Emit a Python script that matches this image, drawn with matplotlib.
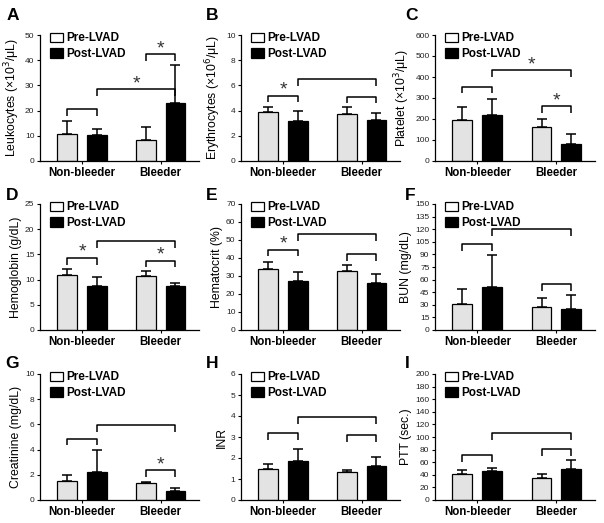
import matplotlib
matplotlib.use("Agg")
import matplotlib.pyplot as plt
from matplotlib.patches import Patch

plt.rcParams['font.family'] = ['Liberation Sans', 'DejaVu Sans']

groups = ["Non-bleeder", "Bleeder"]
series = ["Pre-LVAD", "Post-LVAD"]

# Panel A: Leukocytes
leuko_pre = [10.8, 8.3]
leuko_pre_err = [5.2, 5.0]
leuko_post = [10.5, 23.2]
leuko_post_err = [2.2, 15.0]
# Panel B: Erythrocytes
eryth_pre = [3.85, 3.75]
eryth_pre_err = [0.45, 0.5]
eryth_post = [3.15, 3.25]
eryth_post_err = [0.82, 0.53]
# Panel C: Platelet
plt_pre = [195, 163]
plt_pre_err = [62, 38]
plt_post = [221, 80]
plt_post_err = [76, 47]
# Panel D: Hemoglobin
hgb_pre = [11.0, 10.7]
hgb_pre_err = [1.1, 1.0]
hgb_post = [8.8, 8.8]
hgb_post_err = [1.7, 0.5]
# Panel E: Hematocrit
hct_pre = [34.0, 32.6]
hct_pre_err = [3.7, 3.5]
hct_post = [27.0, 26.0]
hct_post_err = [5.0, 5.0]
# Panel F: BUN
bun_pre = [31.5, 27.0]
bun_pre_err = [17.0, 11.5]
bun_post = [51.5, 24.7]
bun_post_err = [37.5, 16.8]
# Panel G: Creatinine
creat_pre = [1.52, 1.32]
creat_pre_err = [0.48, 0.14]
creat_post = [2.2, 0.68]
creat_post_err = [1.8, 0.28]
# Panel H: INR
inr_pre = [1.5, 1.32]
inr_pre_err = [0.23, 0.12]
inr_post = [1.86, 1.64]
inr_post_err = [0.58, 0.42]
# Panel I: PTT
ptt_pre = [40.5, 35.0]
ptt_pre_err = [7.0, 7.0]
ptt_post = [45.8, 48.5]
ptt_post_err = [5.5, 14.5]

# bracket heights (data units) and significance: within non-bleeder, between groups (post), within bleeder
brackets = {
    "A": [("nb", 20.6, False), ("between", 28.4, True), ("b", 42.3, True)],
    "B": [("nb", 5.19, True), ("between", 6.5, False), ("b", 5.1, False)],
    "C": [("nb", 354, False), ("between", 432, True), ("b", 261, True)],
    "D": [("nb", 14.3, True), ("between", 17.6, False), ("b", 13.75, True)],
    "E": [("nb", 44.6, True), ("between", 53.2, False), ("b", 42.3, False)],
    "F": [("nb", 102, False), ("between", 120, False), ("b", 54.2, False)],
    "G": [("nb", 4.88, False), ("between", 5.94, False), ("b", 2.36, True)],
    "H": [("nb", 3.17, False), ("between", 3.96, False), ("b", 3.09, False)],
    "I": [("nb", 71, False), ("between", 106.6, False), ("b", 80.6, False)],
}

panels = [
    ("A", "Leukocytes (\u00d710$^3$/\u03bcL)", leuko_pre, leuko_pre_err, leuko_post, leuko_post_err, 50, 10),
    ("B", "Erythrocytes (\u00d710$^6$/\u03bcL)", eryth_pre, eryth_pre_err, eryth_post, eryth_post_err, 10, 2),
    ("C", "Platelet (\u00d710$^3$/\u03bcL)", plt_pre, plt_pre_err, plt_post, plt_post_err, 600, 100),
    ("D", "Hemoglobin (g/dL)", hgb_pre, hgb_pre_err, hgb_post, hgb_post_err, 25, 5),
    ("E", "Hematocrit (%)", hct_pre, hct_pre_err, hct_post, hct_post_err, 70, 10),
    ("F", "BUN (mg/dL)", bun_pre, bun_pre_err, bun_post, bun_post_err, 150, 15),
    ("G", "Creatinine (mg/dL)", creat_pre, creat_pre_err, creat_post, creat_post_err, 10, 2),
    ("H", "INR", inr_pre, inr_pre_err, inr_post, inr_post_err, 6, 1),
    ("I", "PTT (sec.)", ptt_pre, ptt_pre_err, ptt_post, ptt_post_err, 200, 20),
]

W, H = 604, 523
fig = plt.figure(figsize=(W / 100, H / 100), dpi=100)

col_x = [(40, 199), (241, 400), (435, 595)]
row_y = [(35, 161), (204, 330), (374, 500)]
letter_pos = [[(7, 8), (206, 8), (405, 8)],
              [(6, 188), (206, 188), (405, 188)],
              [(5, 356), (206, 356), (405, 356)]]

pre_color = "#e3e3e3"
off = 0.188
bw = 0.25

for i, (letter, ylabel, pre, pre_err, post, post_err, ymax, ystep) in enumerate(panels):
    r, c = divmod(i, 3)
    l, rr = col_x[c]
    t, b = row_y[r]
    ax = fig.add_axes([l / W, 1 - b / H, (rr - l) / W, (b - t) / H])
    x = list(range(len(groups)))
    xp = [v - off for v in x]
    xq = [v + off for v in x]
    ax.bar(xp, pre, width=bw, color=pre_color, edgecolor="black", linewidth=0.9, zorder=2)
    ax.bar(xq, post, width=bw, color="black", edgecolor="black", linewidth=0.9, zorder=2)
    ax.errorbar(xp, pre, yerr=[[0] * len(pre), pre_err], fmt="none", ecolor="black",
                elinewidth=1.1, capsize=3.5, capthick=1.1, zorder=3)
    ax.errorbar(xq, post, yerr=[[0] * len(post), post_err], fmt="none", ecolor="black",
                elinewidth=1.1, capsize=3.5, capthick=1.1, zorder=3)

    ax.set_xlim(-0.534, 1.487)
    ax.set_ylim(0, ymax)
    ticks = [k * ystep for k in range(int(round(ymax / ystep)) + 1)]
    ax.set_yticks(ticks)
    ax.set_yticklabels([str(tk) for tk in ticks])
    ax.set_xticks(x)
    ax.set_xticklabels(groups, fontsize=8.3, fontweight="bold")
    ax.tick_params(axis="y", labelsize=6, length=2.5, width=0.8, pad=1.5, labelcolor="#222222")
    ax.tick_params(axis="x", length=2.5, width=0.8, pad=2)
    for s in ("top", "right"):
        ax.spines[s].set_visible(False)
    for s in ("left", "bottom"):
        ax.spines[s].set_linewidth(0.9)
    ax.set_ylabel(ylabel, fontsize=8.8, labelpad=2)

    drop = 0.053 * ymax
    for kind, yt, star in brackets[letter]:
        if kind == "nb":
            x1, x2 = xp[0], xq[0]
        elif kind == "b":
            x1, x2 = xp[1], xq[1]
        else:
            x1, x2 = xq[0], xq[1]
        ax.plot([x1, x1, x2, x2], [yt - drop, yt, yt, yt - drop], color="black",
                linewidth=1.1, solid_capstyle="butt", zorder=4)
        if star:
            ax.annotate("*", xy=((x1 + x2) / 2, yt), xytext=(0, 4), textcoords="offset points",
                        ha="center", va="center", fontsize=14, color="#333333")

    handles = [Patch(facecolor="white", edgecolor="black", linewidth=0.9),
               Patch(facecolor="black", edgecolor="black", linewidth=0.9)]
    ax.legend(handles, series, loc="upper left", bbox_to_anchor=(0.063, 1.02), frameon=False,
              prop={"size": 8.5, "weight": "bold"}, handlelength=1.1, handleheight=0.85,
              handletextpad=0.25, labelspacing=0.3, borderaxespad=0, borderpad=0)

    lx, ly = letter_pos[r][c]
    fig.text(lx / W, 1 - ly / H, letter, fontsize=12.5, fontweight="bold", ha="left", va="top")

fig.savefig("out.png", dpi=100)
